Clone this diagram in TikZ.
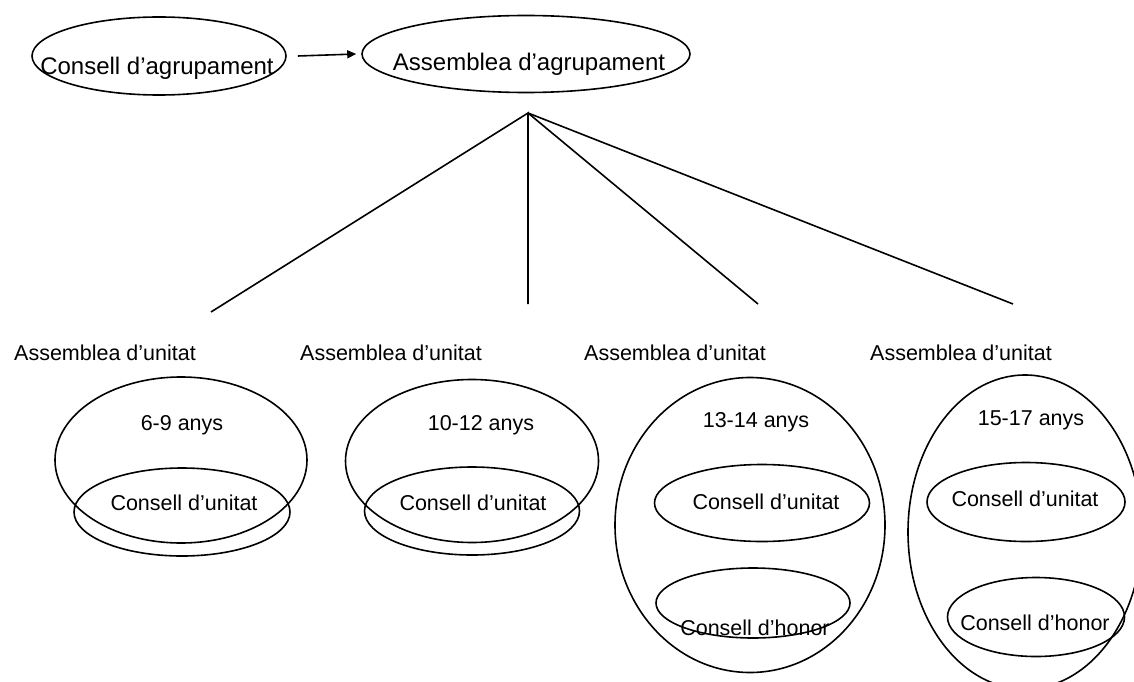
\documentclass[tikz,border=0pt]{standalone}
\usepackage{fontspec}
\setmainfont{Liberation Sans}
\usetikzlibrary{shapes.geometric,arrows.meta}
\tikzset{
  ell/.style={draw, ellipse, inner sep=0pt, line width=1.6pt},
  lbl/.style={inner sep=0pt, font=\fontsize{21.5}{24}\selectfont},
  toplbl/.style={inner sep=0pt, font=\fontsize{24}{28}\selectfont},
  conn/.style={line width=1.6pt},
}
\begin{document}
\begin{tikzpicture}[x=1pt,y=-1pt]
\useasboundingbox (0,0) rectangle (1134,682);
% top
\node[ell, minimum width=254pt, minimum height=78pt] (cag) at (159,56) {};
\node[toplbl] (tcag) at (157,68) {Consell d’agrupament};
\node[ell, minimum width=328pt, minimum height=77pt] (aag) at (526,54) {};
\node[toplbl] (taag) at (529,64) {Assemblea d’agrupament};
\draw[conn, -{Triangle[length=9pt,width=8pt]}] ([xshift=11pt]cag.east) -- ([xshift=-5pt]aag.west);
% fan
\coordinate (apex) at (528,113);
\coordinate (e1) at (211,312);
\coordinate (e2) at (528,304);
\coordinate (e3) at (758,304);
\coordinate (e4) at (1013,304);
\draw[conn] (e1) -- (apex) -- (e2);
\draw[conn] (apex) -- (e3);
\draw[conn] (apex) -- (e4);
% labels
\node[lbl] (l1) at (105,353) {Assemblea d’unitat};
\node[lbl] (l2) at (391,353) {Assemblea d’unitat};
\node[lbl] (l3) at (675,353) {Assemblea d’unitat};
\node[lbl] (l4) at (961,353) {Assemblea d’unitat};
% unit 1
\node[ell, minimum width=252pt, minimum height=166pt] (u1) at (181,460) {};
\node[ell, minimum width=216pt, minimum height=88pt] (c1) at (182,512) {};
\node[lbl] (a1) at (182,425) {6-9 anys};
\node[lbl] (tc1) at (184,503) {Consell d’unitat};
% unit 2
\node[ell, minimum width=253pt, minimum height=163pt] (u2) at (472,461) {};
\node[ell, minimum width=215pt, minimum height=88pt] (c2) at (472,511) {};
\node[lbl] (a2) at (481,425) {10-12 anys};
\node[lbl] (tc2) at (473,503) {Consell d’unitat};
% unit 3
\node[ell, minimum width=270pt, minimum height=295pt] (u3) at (750,525) {};
\node[ell, minimum width=215pt, minimum height=77pt] (c3) at (762,503) {};
\node[ell, minimum width=194pt, minimum height=70pt] (h3) at (753,603) {};
\node[lbl] (a3) at (756,422) {13-14 anys};
\node[lbl] (tc3) at (766,502) {Consell d’unitat};
\node[lbl] (th3) at (755,628) {Consell d’honor};
% unit 4
\node[ell, minimum width=234pt, minimum height=314pt] (u4) at (1025,532) {};
\node[ell, minimum width=198pt, minimum height=79pt] (c4) at (1026,502) {};
\node[ell, minimum width=177pt, minimum height=79pt] (h4) at (1036,617) {};
\node[lbl] (a4) at (1031,420) {15-17 anys};
\node[lbl] (tc4) at (1025,499) {Consell d’unitat};
\node[lbl] (th4) at (1035,623) {Consell d’honor};
\end{tikzpicture}
\end{document}
